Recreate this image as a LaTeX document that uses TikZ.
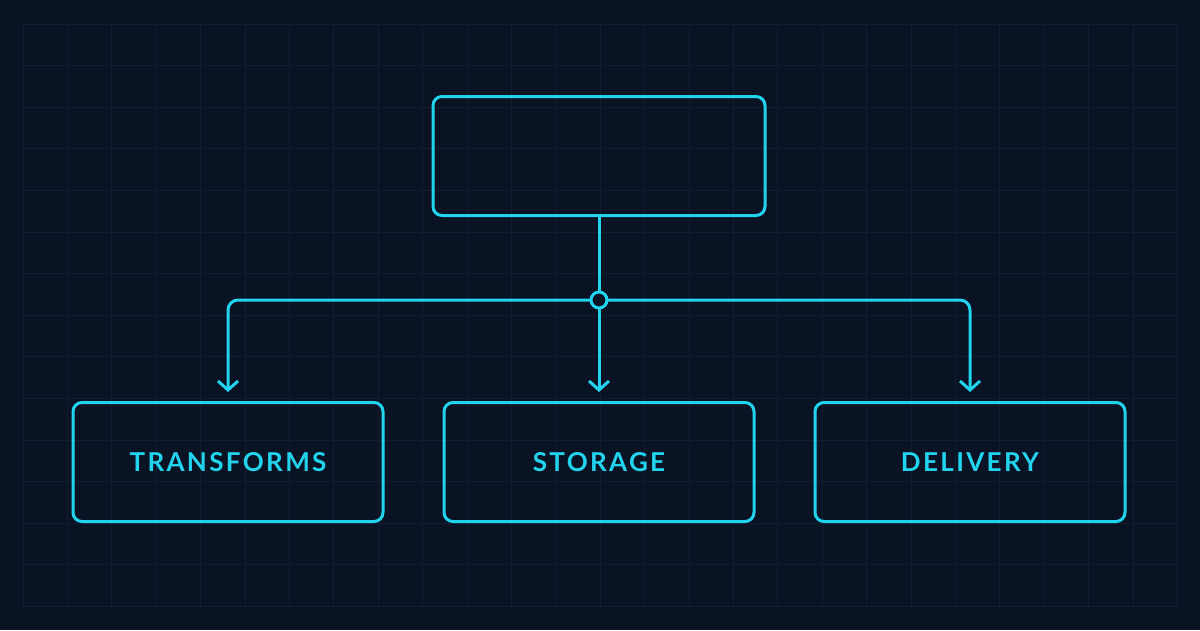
\documentclass[tikz,border=0pt]{standalone}
\usepackage{fontspec}
\setmainfont[LetterSpace=9]{Lato}
\usepackage{tikz}
\usetikzlibrary{positioning,arrows.meta}
\definecolor{bgnavy}{HTML}{0A1324}
\definecolor{gridline}{HTML}{111E30}
\definecolor{cyanline}{HTML}{22D3EE}
\tikzset{
  box/.style={draw=cyanline, line width=3pt, rounded corners=9pt,
    minimum width=310pt, minimum height=119pt, inner sep=0pt,
    text=cyanline, font=\fontsize{26}{30}\selectfont\bfseries},
  wire/.style={draw=cyanline, line width=3pt, rounded corners=10pt},
  tip/.style={-{Straight Barb[length=9pt,width=20pt,line width=3pt]}}
}
\begin{document}
\begin{tikzpicture}[x=1pt,y=-1pt]
  % background and grid
  \fill[bgnavy] (0,0) rectangle (1200,630);
  \foreach \gx in {0,...,26}
    \draw[gridline, line width=1pt] (23+\gx*44.4,24) -- (23+\gx*44.4,606);
  \foreach \gy in {0,...,14}
    \draw[gridline, line width=1pt] (23,24+\gy*41.6) -- (1177,24+\gy*41.6);
  \useasboundingbox (0,0) rectangle (1200,630);

  % boxes
  \node[box, minimum width=332pt] (top) at (599,156) {};
  \node[box] (transforms) at (228,462) {TRANSFORMS};
  \node[box] (storage) at (599,462) {STORAGE};
  \node[box] (delivery) at (970,462) {DELIVERY};

  % junction
  \coordinate (hub) at (599,300);
  \coordinate (left) at (228,300);
  \coordinate (right) at (970,300);
  \draw[wire] (top.south) -- (hub);
  \draw[wire, tip] (hub) -- (left) -- ([yshift=9pt]transforms.north);
  \draw[wire, tip] (hub) -- (right) -- ([yshift=9pt]delivery.north);
  \draw[wire, tip] (hub) -- ([yshift=9pt]storage.north);
  \filldraw[fill=bgnavy, draw=cyanline, line width=3pt] (hub) circle (8pt);
\end{tikzpicture}
\end{document}
